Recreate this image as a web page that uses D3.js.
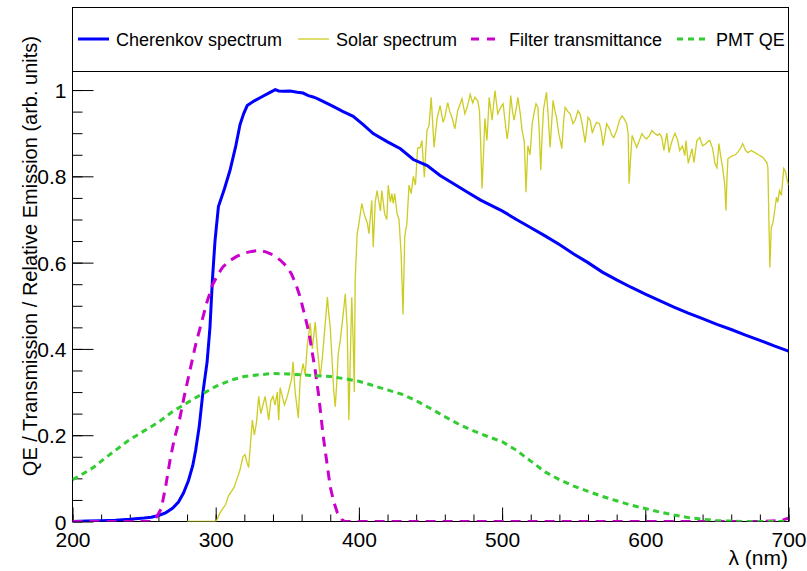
<!DOCTYPE html>
<html>
<head>
  <meta charset="utf-8">
  <script src="https://d3js.org/d3.v7.min.js"></script>
  <style>
    body { margin:0; background:white; }
    text { font-family: "Liberation Sans", Arial, Helvetica, sans-serif; }
  </style>
</head>
<body>
<script>
// wavelength (nm), value
var cherenkov = [[200,0],[210,0.001],[220,0.002],[230,0.003],[240,0.005],[250,0.008],[255,0.01],[260,0.014],
  [265,0.02],[270,0.031],[274,0.045],[277.5,0.066],[281,0.095],[284,0.13],[286,0.165],[288.5,0.22],[291,0.297],
  [294,0.37],[296,0.45],[297.7,0.56],[299.5,0.65],[301.9,0.73],[306,0.77],[310,0.814],[314,0.87],[317,0.92],
  [319.5,0.945],[322,0.964],[327,0.975],[332.6,0.985],[337,0.993],[341.6,1.001],[344,0.998],[347,0.997],
  [352,0.998],[357,0.995],[361,0.993],[364.7,0.987],[368,0.984],[371,0.98],[376,0.972],[382,0.962],[389,0.95],
  [396,0.939],[403,0.92],[410,0.899],[420,0.88],[429,0.864],[438,0.839],[447.7,0.825],[456.7,0.802],[465,0.785],
  [475,0.765],[485,0.745],[500,0.72],[510,0.70],[519.5,0.682],[530,0.662],[540,0.642],[550,0.62],[560,0.60],
  [570,0.578],[580,0.56],[590,0.543],[600,0.527],[610,0.512],[620,0.497],[630,0.483],[640,0.47],[650,0.457],
  [660,0.445],[670,0.432],[680,0.42],[690,0.407],[700,0.395]];

var solar = [[280,0],[285,0],[290,0],[295,0],[300,0],[301,0.005],[303,0.02],[305,0.03],[307,0.04],[309,0.06],
  [311,0.07],[313,0.08],[315,0.1],[317,0.12],[319,0.15],[320.5,0.155],[322,0.135],[323,0.125],[324.5,0.19],
  [325.6,0.235],[327,0.2],[328.5,0.23],[330,0.29],[331.5,0.25],[333,0.27],[334.5,0.29],[336,0.26],[337,0.235],
  [338.5,0.28],[340,0.29],[341.5,0.27],[343,0.3],[344,0.235],[345,0.31],[346.5,0.29],[348,0.27],[350,0.29],
  [351.5,0.31],[353,0.33],[354,0.37],[355.5,0.3],[357.7,0.24],[359,0.33],[361,0.366],[362.5,0.34],[364,0.41],
  [366,0.46],[367.5,0.4],[369.5,0.462],[371,0.4],[373,0.335],[374.5,0.38],[376,0.44],[378,0.52],[379,0.48],
  [380,0.45],[381.5,0.36],[382.5,0.3],[383.5,0.266],[384.5,0.32],[385.6,0.39],[387,0.42],[389,0.48],[390.5,0.528],
  [391.8,0.45],[393,0.235],[394,0.38],[395,0.52],[396,0.42],[396.8,0.3],[397.4,0.56],[398.8,0.667],[400,0.69],
  [402,0.737],[403.7,0.713],[405,0.7],[406,0.69],[407,0.667],[409,0.744],[410,0.636],[411.4,0.74],[412.7,0.767],
  [414,0.74],[415,0.72],[416,0.767],[418,0.713],[419.5,0.7],[420.5,0.779],[422,0.74],[423,0.76],[424,0.737],
  [425,0.76],[426.7,0.713],[428,0.7],[429.5,0.62],[430.8,0.48],[432,0.66],[433.5,0.69],[435,0.78],[436.5,0.76],
  [438,0.8],[439.5,0.78],[441,0.865],[442.8,0.867],[444,0.883],[445.7,0.798],[447.5,0.906],[449,0.918],
  [450.5,0.983],[452.5,0.867],[454.6,0.934],[456.7,0.964],[458.8,0.925],[460,0.937],[462,0.971],[463.5,0.95],
  [465,0.937],[467,0.91],[469,0.952],[472,0.98],[474,0.945],[475.6,0.96],[477.7,0.99],[479.5,0.97],[481,0.983],
  [483,0.975],[484.2,0.952],[485,0.88],[486,0.772],[487,0.85],[488,0.934],[489.4,0.883],[491,0.983],[493,0.93],
  [495,0.999],[497,0.945],[499,0.96],[500.7,0.968],[502,0.93],[503.5,0.887],[504.5,0.91],[506,0.987],[507.3,0.95],
  [508.4,0.93],[510,0.96],[511,0.983],[512.5,0.95],[514,0.906],[515.5,0.88],[516.7,0.763],[518,0.871],
  [519.5,0.85],[521,0.922],[522.5,0.95],[523.7,0.968],[525,0.96],[526,0.9],[527,0.814],[528,0.9],[529,0.957],
  [531,0.995],[532.2,0.94],[533.5,0.867],[535.6,0.976],[537,0.95],[538,0.937],[539.5,0.9],[540.8,0.88],
  [541.7,0.864],[543,0.93],[544,0.96],[546,0.95],[547.5,0.945],[549.5,0.922],[551,0.93],[553,0.952],[554.4,0.945],
  [556,0.92],[558,0.878],[560,0.937],[561.5,0.93],[563,0.9],[564.5,0.915],[566,0.925],[568,0.922],[569.5,0.9],
  [570.5,0.871],[572,0.9],[573,0.922],[575,0.91],[576.7,0.895],[578,0.89],[580,0.906],[582,0.93],[583.7,0.94],
  [585,0.935],[587,0.922],[588,0.9],[588.7,0.783],[589.5,0.83],[590.8,0.895],[592.5,0.88],[594,0.867],
  [595.5,0.88],[597.7,0.899],[599.5,0.89],[601,0.887],[603,0.895],[604.6,0.906],[606.5,0.9],[608.5,0.895],
  [610,0.899],[611.5,0.89],[613,0.86],[614,0.88],[615,0.9],[616.6,0.855],[618,0.875],[619.5,0.89],[620.7,0.9],
  [622.5,0.885],[624,0.86],[626,0.87],[627.6,0.848],[628.4,0.883],[630,0.83],[631.5,0.85],[632.6,0.864],
  [634,0.832],[636,0.883],[638,0.89],[640,0.871],[642,0.875],[643.5,0.88],[645,0.883],[647,0.865],[648.6,0.83],
  [650,0.82],[651.4,0.876],[652.8,0.844],[654,0.82],[655.5,0.78],[656.3,0.721],[657,0.79],[657.7,0.841],
  [659.5,0.845],[661,0.848],[663,0.85],[664.6,0.856],[666.5,0.865],[668,0.876],[670,0.86],[671.7,0.855],
  [674,0.86],[676.5,0.855],[679,0.85],[682,0.844],[684.9,0.832],[685.6,0.82],[686.3,0.7],[687,0.589],[688,0.682],
  [689,0.69],[690.3,0.72],[691.6,0.752],[692.5,0.74],[693.7,0.767],[695,0.756],[696.7,0.818],[698,0.81],
  [698.8,0.795],[700,0.78]];

var filter = [[200,0],[250,0],[256,0],[259,0.012],[262,0.03],[265,0.08],[268,0.14],[271,0.19],[275,0.24],
  [278,0.29],[282,0.35],[286,0.41],[290,0.46],[294,0.51],[298,0.55],[302,0.575],[305,0.59],[310,0.605],
  [315,0.615],[320,0.622],[325,0.626],[330,0.628],[335,0.625],[340,0.618],[345,0.606],[350,0.59],[353,0.573],
  [356,0.55],[359,0.52],[362,0.48],[365,0.44],[367,0.4],[369.5,0.35],[372,0.29],[375,0.2],[377.5,0.14],
  [380,0.08],[382.5,0.045],[385,0.02],[388,0.005],[390,0],[400,0],[500,0],[600,0],[680,0],[695,0.002],[700,0.008]];

var pmt = [[200,0.097],[207,0.11],[215,0.126],[222,0.145],[230,0.165],[240,0.19],[250,0.21],[260,0.23],
  [270,0.255],[285,0.285],[300,0.313],[310,0.327],[320,0.336],[330,0.34],[340,0.343],[350,0.342],[360,0.34],
  [370,0.338],[380,0.336],[390,0.331],[400,0.325],[410,0.315],[420,0.305],[430,0.295],[440,0.28],[450,0.262],
  [460,0.243],[470,0.225],[480,0.21],[490,0.197],[500,0.185],[510,0.165],[520,0.14],[530,0.115],[540,0.097],
  [550,0.082],[560,0.07],[570,0.058],[580,0.048],[590,0.038],[600,0.03],[610,0.022],[620,0.015],[630,0.009],
  [640,0.005],[650,0.002],[660,0.001],[670,0],[700,0]];

var legendNames = ["Cherenkov spectrum", "Solar spectrum", "Filter transmittance", "PMT QE"];
var xMajor = [200, 300, 400, 500, 600, 700];
var yMajor = [0, 0.2, 0.4, 0.6, 0.8, 1];

var svg = d3.select("body").append("svg")
  .attr("width", 807)
  .attr("height", 571);

var x = d3.scaleLinear().domain([200, 700]).range([72.5, 788.5]);
var y = d3.scaleLinear().domain([0, 1.043]).range([521.5, 71.5]);

// axes (ticks pointing inside, ROOT style)
var gx = svg.append("g").attr("transform", "translate(0," + y(0) + ")");
gx.call(d3.axisBottom(x).tickValues(d3.range(200, 701, 20)).tickSize(-7).tickFormat(""));
var gx2 = svg.append("g").attr("transform", "translate(0," + y(0) + ")");
gx2.call(d3.axisBottom(x).tickValues(xMajor).tickSize(-14).tickPadding(11).tickFormat(d3.format("d")));

var gy = svg.append("g").attr("transform", "translate(" + x(200) + ",0)");
gy.call(d3.axisLeft(y).tickValues(d3.range(0, 1.04, 0.05)).tickSize(-10).tickFormat(""));
var gy2 = svg.append("g").attr("transform", "translate(" + x(200) + ",0)");
gy2.call(d3.axisLeft(y).tickValues(yMajor).tickSize(-21).tickPadding(6)
  .tickFormat(function(d) { return (d === 0 || d === 1) ? d3.format("d")(d) : d3.format(".1f")(d); }));

svg.selectAll(".domain").remove();
svg.selectAll(".tick line").attr("stroke", "black");
svg.selectAll(".tick text")
  .attr("font-size", "21px")
  .attr("font-family", "'Liberation Sans', Arial, sans-serif")
  .attr("fill", "black");
gy2.selectAll(".tick text").attr("dy", "0.36em");

// frame
svg.append("rect")
  .attr("x", x(200)).attr("y", y(1.043))
  .attr("width", x(700) - x(200)).attr("height", y(0) - y(1.043))
  .attr("fill", "none").attr("stroke", "black").attr("stroke-width", 1);

// curves
svg.append("clipPath").attr("id", "plotclip").append("rect")
  .attr("x", x(200)).attr("y", y(1.043))
  .attr("width", x(700) - x(200)).attr("height", y(0) - y(1.043));

var line = d3.line().x(function(d) { return x(d[0]); }).y(function(d) { return y(d[1]); });
var plot = svg.append("g").attr("clip-path", "url(#plotclip)");

plot.append("path").datum(solar).attr("d", line)
  .attr("fill", "none").attr("stroke", "#cccc22").attr("stroke-width", 1.3);
plot.append("path").datum(cherenkov).attr("d", line)
  .attr("fill", "none").attr("stroke", "#0000ff").attr("stroke-width", 3);
plot.append("path").datum(filter).attr("d", line)
  .attr("fill", "none").attr("stroke", "#cc00cc").attr("stroke-width", 3)
  .attr("stroke-dasharray", "10,7");
plot.append("path").datum(pmt).attr("d", line)
  .attr("fill", "none").attr("stroke", "#33cc33").attr("stroke-width", 3)
  .attr("stroke-dasharray", "6,4.5");

// axis titles
svg.append("text").text("λ (nm)")
  .attr("x", 788).attr("y", 565)
  .attr("text-anchor", "end").attr("font-size", "21px");
svg.append("text").text("QE / Transmission / Relative Emission (arb. units)")
  .attr("transform", "translate(37,36) rotate(-90)")
  .attr("text-anchor", "end").attr("font-size", "20px");

// legend
svg.append("rect")
  .attr("x", 72.5).attr("y", 7.5).attr("width", 716).attr("height", 64)
  .attr("fill", "white").attr("stroke", "black");

var legendStyle = [
  {x1: 78, x2: 109, tx: 116, color: "#0000ff", w: 3, dash: null},
  {x1: 298, x2: 329, tx: 336, color: "#cccc22", w: 1.3, dash: null},
  {x1: 471, x2: 495, tx: 509, color: "#cc00cc", w: 3, dash: "8,8"},
  {x1: 677, x2: 709, tx: 716, color: "#33cc33", w: 3, dash: "6,5"}
];
legendNames.forEach(function(name, i) {
  var s = legendStyle[i];
  svg.append("line")
    .attr("x1", s.x1).attr("x2", s.x2).attr("y1", 39).attr("y2", 39)
    .attr("stroke", s.color).attr("stroke-width", s.w)
    .attr("stroke-dasharray", s.dash);
  svg.append("text").text(name)
    .attr("x", s.tx).attr("y", 45.5)
    .attr("font-size", "18px");
});
</script>
</body>
</html>
